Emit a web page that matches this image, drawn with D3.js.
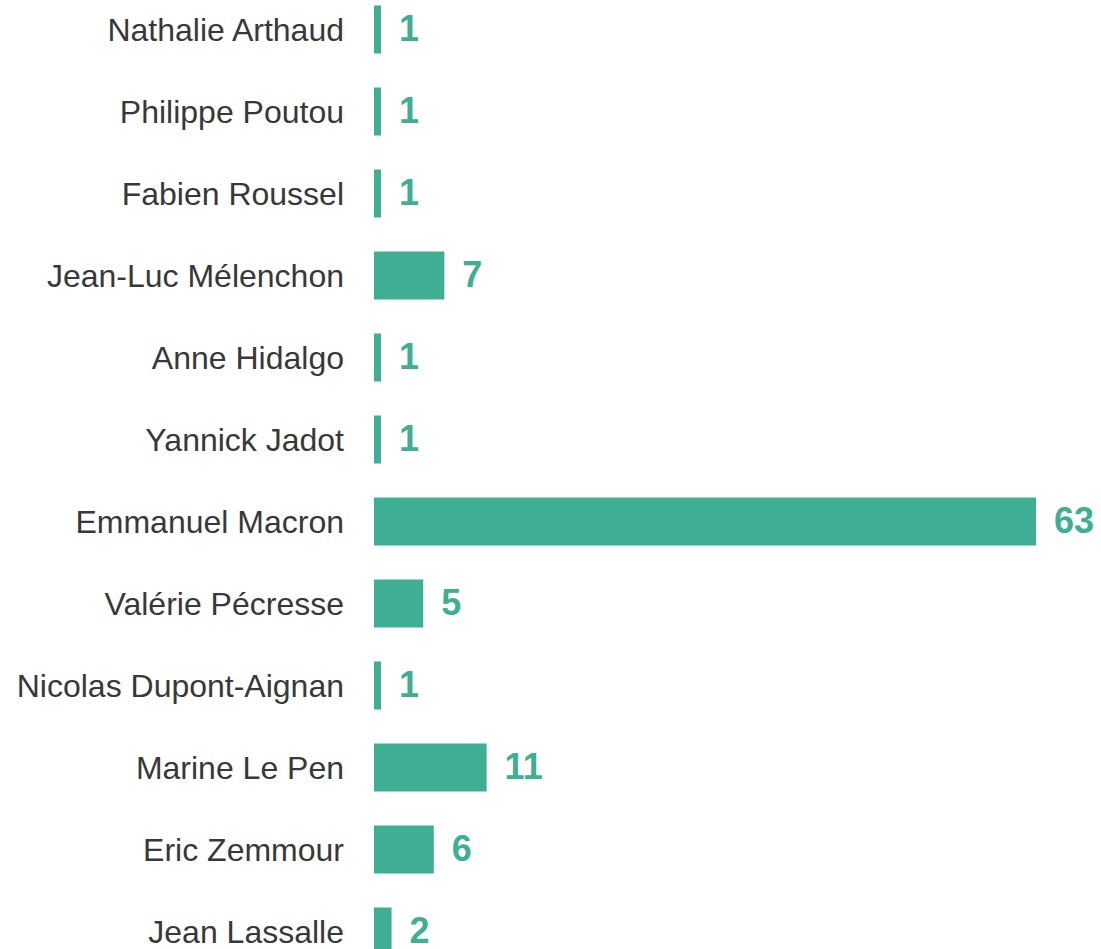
<!DOCTYPE html>
<html>
<head>
<meta charset="utf-8">
<script src="https://cdn.jsdelivr.net/npm/d3@7"></script>
<style>
  html, body { margin: 0; padding: 0; background: #fff; }
  svg { display: block; }
</style>
</head>
<body>
<div id="chart"></div>
<script>
const candidats = [
  "Nathalie Arthaud", "Philippe Poutou", "Fabien Roussel", "Jean-Luc Mélenchon",
  "Anne Hidalgo", "Yannick Jadot", "Emmanuel Macron", "Valérie Pécresse",
  "Nicolas Dupont-Aignan", "Marine Le Pen", "Eric Zemmour", "Jean Lassalle"
];
const valeurs = [1, 1, 1, 7, 1, 1, 63, 5, 1, 11, 6, 2];

const width = 1101;
const height = 949;
const couleur = "#3eae94";
const police = "'Liberation Sans', Arial, sans-serif";

const data = candidats.map((c, i) => ({ nom: c, val: valeurs[i] }));

const svg = d3.select("#chart").append("svg")
  .attr("width", width)
  .attr("height", height);

// l'axe ne part pas de zero dans l'original
const x = d3.scaleLinear()
  .domain([0.34, 63])
  .range([374, 1036]);

const y = d3.scaleBand()
  .domain(candidats)
  .range([5.5, 955.5])
  .paddingInner(0.4146)
  .paddingOuter(0);

const rows = svg.selectAll("g.row")
  .data(data)
  .join("g")
  .attr("class", "row")
  .attr("transform", d => `translate(0, ${y(d.nom)})`);

rows.append("rect")
  .attr("x", x(0.34))
  .attr("y", 0)
  .attr("width", d => x(d.val) - x(0.34))
  .attr("height", y.bandwidth())
  .attr("fill", couleur);

rows.append("text")
  .attr("x", 344)
  .attr("y", y.bandwidth() / 2)
  .attr("dy", "0.35em")
  .attr("text-anchor", "end")
  .style("font-family", police)
  .style("font-size", "32px")
  .attr("fill", "#383838")
  .text(d => d.nom);

rows.append("text")
  .attr("x", d => x(d.val) + 18)
  .attr("y", y.bandwidth() / 2)
  .attr("dy", "0.32em")
  .style("font-family", police)
  .style("font-size", "36px")
  .style("font-weight", "bold")
  .attr("fill", couleur)
  .text(d => d.val);
</script>
</body>
</html>
